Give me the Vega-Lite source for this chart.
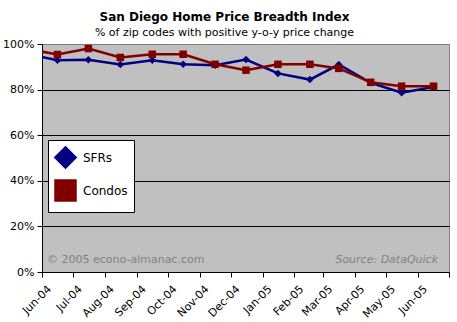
{
  "$schema": "https://vega.github.io/schema/vega-lite/v6.json",
  "width": 407,
  "height": 228,
  "autosize": {"type": "none"},
  "padding": {"left": 42, "top": 44, "right": 8, "bottom": 50},
  "background": "white",
  "config": {
    "font": "DejaVu Sans",
    "view": {"stroke": "#808080", "strokeWidth": 1, "fill": "#C0C0C0"}
  },
  "title": {
    "text": "San Diego Home Price Breadth Index",
    "subtitle": "% of zip codes with positive y-o-y price change",
    "fontSize": 12,
    "fontWeight": "bold",
    "subtitleFontSize": 11,
    "color": "black",
    "subtitleColor": "black",
    "anchor": "middle",
    "frame": "group",
    "dx": -21,
    "offset": -1,
    "subtitlePadding": 3
  },
  "data": {
    "values": [
      {"month": "2004-05-16", "series": "SFRs", "value": 0.957},
      {"month": "2004-06-16", "series": "SFRs", "value": 0.929},
      {"month": "2004-07-16", "series": "SFRs", "value": 0.931},
      {"month": "2004-08-16", "series": "SFRs", "value": 0.910},
      {"month": "2004-09-16", "series": "SFRs", "value": 0.929},
      {"month": "2004-10-16", "series": "SFRs", "value": 0.911},
      {"month": "2004-11-16", "series": "SFRs", "value": 0.907},
      {"month": "2004-12-16", "series": "SFRs", "value": 0.932},
      {"month": "2005-01-16", "series": "SFRs", "value": 0.871},
      {"month": "2005-02-16", "series": "SFRs", "value": 0.844},
      {"month": "2005-03-16", "series": "SFRs", "value": 0.910},
      {"month": "2005-04-16", "series": "SFRs", "value": 0.830},
      {"month": "2005-05-16", "series": "SFRs", "value": 0.786},
      {"month": "2005-06-16", "series": "SFRs", "value": 0.811},
      {"month": "2004-05-16", "series": "Condos", "value": 0.980},
      {"month": "2004-06-16", "series": "Condos", "value": 0.954},
      {"month": "2004-07-16", "series": "Condos", "value": 0.980},
      {"month": "2004-08-16", "series": "Condos", "value": 0.941},
      {"month": "2004-09-16", "series": "Condos", "value": 0.955},
      {"month": "2004-10-16", "series": "Condos", "value": 0.955},
      {"month": "2004-11-16", "series": "Condos", "value": 0.911},
      {"month": "2004-12-16", "series": "Condos", "value": 0.885},
      {"month": "2005-01-16", "series": "Condos", "value": 0.911},
      {"month": "2005-02-16", "series": "Condos", "value": 0.911},
      {"month": "2005-03-16", "series": "Condos", "value": 0.893},
      {"month": "2005-04-16", "series": "Condos", "value": 0.832},
      {"month": "2005-05-16", "series": "Condos", "value": 0.815},
      {"month": "2005-06-16", "series": "Condos", "value": 0.815}
    ]
  },
  "encoding": {
    "x": {
      "field": "month",
      "type": "temporal",
      "title": null,
      "scale": {
        "type": "utc",
        "domain": [
          {"year": 2004, "month": 6, "date": 1, "utc": true},
          {"year": 2005, "month": 7, "date": 1, "utc": true}
        ]
      },
      "axis": {
        "values": [
          {"year": 2004, "month": 6, "date": 1, "utc": true},
          {"year": 2004, "month": 7, "date": 1, "utc": true},
          {"year": 2004, "month": 8, "date": 1, "utc": true},
          {"year": 2004, "month": 9, "date": 1, "utc": true},
          {"year": 2004, "month": 10, "date": 1, "utc": true},
          {"year": 2004, "month": 11, "date": 1, "utc": true},
          {"year": 2004, "month": 12, "date": 1, "utc": true},
          {"year": 2005, "month": 1, "date": 1, "utc": true},
          {"year": 2005, "month": 2, "date": 1, "utc": true},
          {"year": 2005, "month": 3, "date": 1, "utc": true},
          {"year": 2005, "month": 4, "date": 1, "utc": true},
          {"year": 2005, "month": 5, "date": 1, "utc": true},
          {"year": 2005, "month": 6, "date": 1, "utc": true},
          {"year": 2005, "month": 7, "date": 1, "utc": true}
        ],
        "labelExpr": "datum.value >= utc(2005,6,1) ? '' : utcFormat(datum.value, '%b-%y')",
        "labelAngle": -45,
        "labelOffset": 3,
        "labelPadding": 6,
        "labelOverlap": false,
        "labelFlush": false,
        "labelFontSize": 11,
        "labelColor": "black",
        "tickColor": "black",
        "tickSize": 5,
        "domainColor": "black",
        "grid": false
      }
    },
    "y": {
      "field": "value",
      "type": "quantitative",
      "title": null,
      "scale": {"domain": [0, 1], "nice": false},
      "axis": {
        "values": [0, 0.2, 0.4, 0.6, 0.8, 1],
        "format": ".0%",
        "labelFontSize": 11,
        "labelColor": "black",
        "tickColor": "black",
        "tickSize": 5,
        "labelPadding": 3,
        "domainColor": "black",
        "grid": true,
        "gridColor": {"condition": {"test": "datum.value === 1", "value": "#808080"}, "value": "black"},
        "gridOpacity": 1
      }
    }
  },
  "layer": [
    {
      "mark": {"type": "line", "strokeWidth": 2.5, "clip": true},
      "encoding": {
        "color": {
          "field": "series",
          "type": "nominal",
          "scale": {"domain": ["SFRs", "Condos"], "range": ["#000080", "#800000"]},
          "legend": {"orient": "none", "legendX": 6, "legendY": 96, "title": null, "fillColor": "white", "strokeColor": "black", "padding": 6, "symbolType": "stroke", "symbolSize": 400, "symbolStrokeWidth": 2.5, "labelFontSize": 12, "labelColor": "black", "labelOffset": 6, "rowPadding": 2}
        }
      }
    },
    {
      "mark": {"type": "point", "filled": true, "size": 56, "opacity": 1, "clip": true},
      "encoding": {
        "fill": {
          "field": "series", "type": "nominal",
          "scale": {"domain": ["SFRs", "Condos"], "range": ["#000080", "#800000"]},
          "legend": null
        },
        "shape": {
          "field": "series", "type": "nominal",
          "scale": {"domain": ["SFRs", "Condos"], "range": ["diamond", "square"]},
          "legend": null
        }
      }
    },
    {
      "mark": {"type": "text", "align": "left", "baseline": "alphabetic", "dx": 5, "fontSize": 11, "color": "#808080"},
      "encoding": {
        "x": {"datum": {"year": 2004, "month": 6, "date": 1, "utc": true}, "type": "temporal"},
        "y": {"datum": 0.04, "type": "quantitative"},
        "text": {"condition": {"test": "datum.series === 'SFRs' && datum.value === 0.957", "value": "© 2005 econo-almanac.com"}, "value": ""}
      }
    },
    {
      "mark": {"type": "text", "align": "right", "baseline": "alphabetic", "dx": -11, "fontSize": 11, "fontStyle": "italic", "color": "#808080"},
      "encoding": {
        "x": {"datum": {"year": 2005, "month": 7, "date": 1, "utc": true}, "type": "temporal"},
        "y": {"datum": 0.04, "type": "quantitative"},
        "text": {"condition": {"test": "datum.series === 'SFRs' && datum.value === 0.957", "value": "Source: DataQuick"}, "value": ""}
      }
    }
  ]
}
